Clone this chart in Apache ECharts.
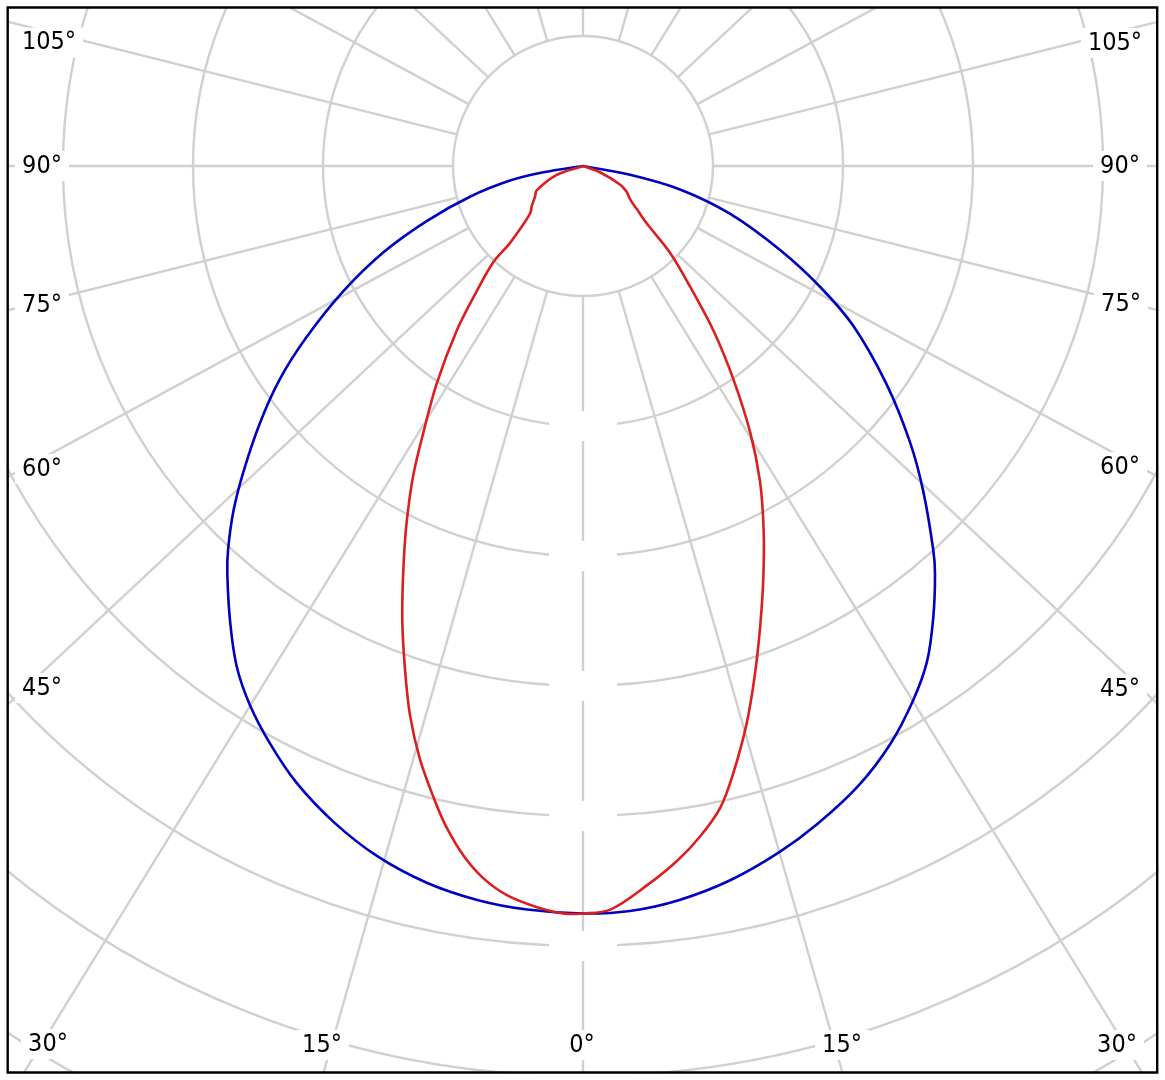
<!DOCTYPE html>
<html>
<head>
<meta charset="utf-8">
<script src="https://cdn.jsdelivr.net/npm/echarts@6.0.0/dist/echarts.min.js"></script>
<style>
html,body{margin:0;padding:0;background:#fff;}
#chart{width:1165px;height:1080px;}
</style>
</head>
<body>
<div id="chart"></div>
<script>
// ---- data (angle in degrees from nadir; negative = left half, positive = right half) ----
const blueAngles = [-90, -81.0, -78.7, -74.8, -70.6, -66.6, -62.4, -58.2, -54.9, -51.5, -48.0, -45.4, -42.8, -41.1, -37.7, -34.7, -31.7, -28.4, -24.9, -20.8, -16.6, -12.3, -8.2, -4.3,
  0, 3.6, 7.5, 11.6, 15.9, 19.6, 24.0, 28.0, 31.7, 34.8, 37.8, 40.8, 42.4, 46.3, 49.8, 54.3, 59.4, 63.0, 66.9, 72.0, 76.4, 79.4, 90];
const blueValues = [0, 30.9, 57.2, 90.1, 127.5, 167.5, 208.2, 250.5, 284.9, 317.5, 351.5, 377.6, 401.8, 416.2, 443.8, 468.0, 487.5, 505.6, 523.2, 539.9, 554.0, 564.3, 570.4, 573.6,
  575.0, 574.2, 569.4, 561.1, 549.2, 537.3, 521.5, 503.5, 483.2, 463.8, 439.6, 414.4, 399.5, 362.0, 329.4, 287.5, 241.5, 204.6, 164.8, 118.8, 76.8, 36.8, 0];

const redAngles = [-90, -71.5, -62.3, -57.4, -51.8, -48.0, -43.5, -43.0, -40.3, -37.5, -33.9, -30.9, -28.7, -26.2, -23.8, -21.6, -19.4, -17.5, -15.4, -13.3, -11.7, -9.8, -8.0, -6.0, -3.6, -1.5,
  0, 2.1, 5.1, 7.7, 9.9, 12.1, 13.9, 16.3, 18.6, 21.0, 23.6, 26.4, 29.3, 32.1, 35.2, 38.4, 41.6, 45.1, 48.0, 51.4, 54.9, 59.4, 63.4, 69.7, 90];
const redValues = [0, 21.3, 40.2, 43.8, 50.2, 54.8, 81.5, 101.2, 126.5, 159.5, 201.9, 239.2, 272.2, 307.7, 342.8, 377.5, 411.9, 442.7, 472.8, 499.3, 519.0, 538.7, 553.0, 563.8, 571.1, 575.2,
  575.0, 572.4, 555.4, 539.5, 523.6, 504.5, 481.2, 447.8, 414.0, 380.1, 346.4, 312.5, 278.2, 242.1, 200.6, 161.5, 124.1, 94.5, 65.9, 52.8, 44.2, 39.0, 31.8, 13.9, 0];

const leftLabels = ['105°', '90°', '75°', '60°', '45°'];
const rightLabels = ['105°', '90°', '75°', '60°', '45°'];
const bottomLabels = ['30°', '15°', '0°', '15°', '30°'];
const ringLabelValues = [200, 300, 400, 500, 600];
const spokeNominal = Array.from({length: 24}, (_, i) => -180 + i * 15);

// ---- layout / style ----
const GRID = '#d0d0d0';
const FONT = '25px "DejaVu Sans Condensed", "DejaVu Sans", sans-serif';
const STRETCH = 1.068;
const leftPos = [[49, 42.5], [42, 166], [42, 305], [42, 469], [42, 688]];
const rightPos = [[1115, 43], [1120, 166], [1121, 304], [1120, 467], [1120, 689]];
const bottomPos = [[48, 1044], [322, 1045], [582, 1045], [842, 1045], [1117, 1045]];

const toPolar = (angles, values) => angles.map((a, i) => [values[i], a]);

const spokeSeries = spokeNominal.map(n => {
  const r = n * Math.PI / 180;
  const a = Math.atan2(STRETCH * Math.sin(r), Math.cos(r)) * 180 / Math.PI;
  return {
    type: 'line', coordinateSystem: 'polar', silent: true, symbol: 'none', z: 1,
    lineStyle: {color: GRID, width: 2.4}, data: [[100, a], [900, a]]
  };
});

// smooth curve through the data points (positions from the polar coordinate system)
function curveSeries(name, angles, values, color, z) {
  return {
    type: 'custom', coordinateSystem: 'polar', name: name, z: z, silent: true,
    data: toPolar(angles, values),
    renderItem: function (params, api) {
      if (params.dataIndex !== 0) return null;
      const pts = values.map((v, i) => api.coord([v, angles[i]]));
      const n = pts.length;
      const dist = (a, b) => Math.hypot(a[0] - b[0], a[1] - b[1]) || 1e-6;
      let d = 'M' + pts[0][0] + ',' + pts[0][1];
      for (let i = 0; i < n - 1; i++) {
        const p0 = pts[Math.max(i - 1, 0)], p1 = pts[i], p2 = pts[i + 1], p3 = pts[Math.min(i + 2, n - 1)];
        const d01 = i > 0 ? dist(p0, p1) : 0, d12 = dist(p1, p2), d23 = i + 2 < n ? dist(p2, p3) : 0;
        const f1 = d12 / (3 * (d01 + d12)), f2 = d12 / (3 * (d12 + d23));
        const c1x = p1[0] + (p2[0] - p0[0]) * f1, c1y = p1[1] + (p2[1] - p0[1]) * f1;
        const c2x = p2[0] - (p3[0] - p1[0]) * f2, c2y = p2[1] - (p3[1] - p1[1]) * f2;
        d += ' C' + c1x + ',' + c1y + ' ' + c2x + ',' + c2y + ' ' + p2[0] + ',' + p2[1];
      }
      return {type: 'path', shape: {pathData: d}, style: {fill: 'none', stroke: color, lineWidth: 2.6}};
    }
  };
}

function label(t, p) {
  return {
    type: 'text', z: 100, silent: true,
    style: {
      text: t, x: p[0], y: p[1], font: FONT, fill: '#000', align: 'center', verticalAlign: 'middle',
      backgroundColor: '#fff', padding: [3, 7], lineHeight: 24
    }
  };
}

const graphics = [];
leftLabels.forEach((t, i) => graphics.push(label(t, leftPos[i])));
rightLabels.forEach((t, i) => graphics.push(label(t, rightPos[i])));
bottomLabels.forEach((t, i) => graphics.push(label(t, bottomPos[i])));
// white margin outside frame
[[0, 0, 1165, 6.5], [0, 1073.5, 1165, 6.5], [0, 0, 6.5, 1080], [1158.5, 0, 6.5, 1080]].forEach(r => {
  graphics.push({type: 'rect', z: 200, silent: true, shape: {x: r[0], y: r[1], width: r[2], height: r[3]}, style: {fill: '#fff'}});
});
graphics.push({type: 'rect', z: 201, silent: true, shape: {x: 7.7, y: 7.5, width: 1149.5, height: 1065}, style: {fill: 'none', stroke: '#000', lineWidth: 2.4}});

const chart = echarts.init(document.getElementById('chart'), null, {renderer: 'canvas'});
chart.setOption({
  animation: false,
  backgroundColor: '#fff',
  polar: {center: [583, 166], radius: 1170},
  angleAxis: {
    type: 'value', min: -180, max: 180, startAngle: 90, clockwise: false,
    axisLine: {show: false}, axisTick: {show: false}, axisLabel: {show: false}, splitLine: {show: false}
  },
  radiusAxis: {
    type: 'value', min: 0, max: 900, interval: 100, z: 0,
    axisLine: {show: false}, axisTick: {show: false}, axisLabel: {show: false},
    splitLine: {show: true, lineStyle: {color: GRID, width: 2.4}}
  },
  series: spokeSeries.concat([
    {
      type: 'scatter', coordinateSystem: 'polar', silent: true, z: 3, symbol: 'rect', symbolSize: [68, 30],
      itemStyle: {color: '#fff', opacity: 1}, data: ringLabelValues.map(v => [v, 0])
    },
    curveSeries('C90-C270', blueAngles, blueValues, '#0000c0', 4),
    curveSeries('C0-C180', redAngles, redValues, '#dc1e1e', 5)
  ]),
  graphic: graphics
});
</script>
</body>
</html>
